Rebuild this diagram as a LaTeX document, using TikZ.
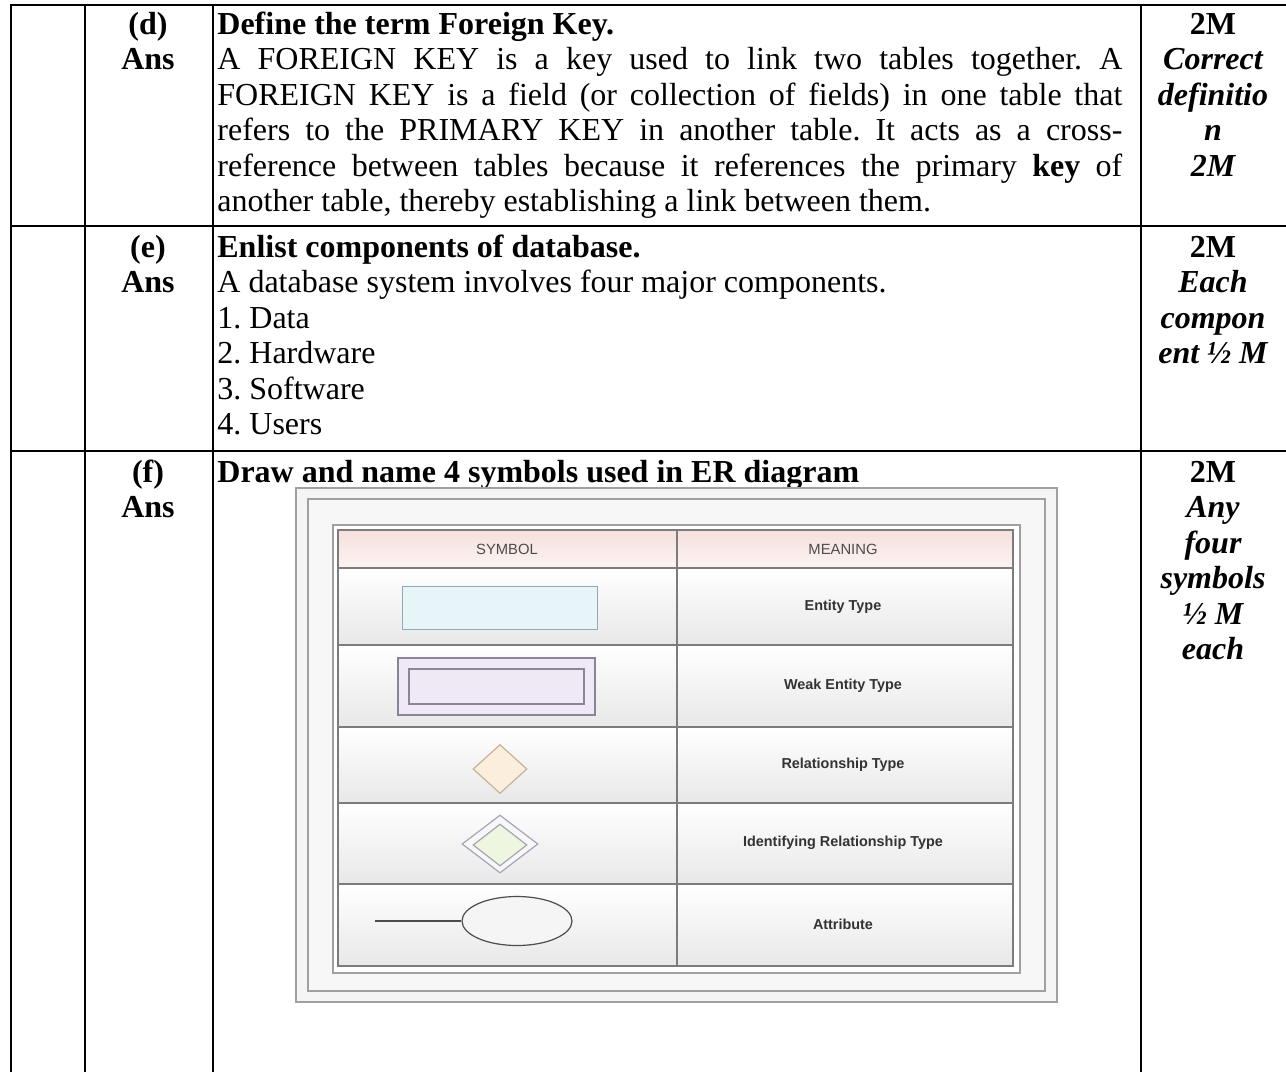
\documentclass[tikz,border=0pt]{standalone}
\usepackage{fontspec}
\setmainfont{Liberation Serif}
\newfontfamily\figfont{Liberation Sans}
\usetikzlibrary{shapes.geometric}
\frenchspacing
\definecolor{headpink}{HTML}{F5E0DC}
\definecolor{rowgray}{HTML}{E8E8E8}
\definecolor{gridgray}{HTML}{7C7C7C}
\definecolor{framegray}{HTML}{A0A0A0}
\definecolor{entityfill}{HTML}{E7F5F8}
\definecolor{entityline}{HTML}{8EABB2}
\definecolor{weakfill}{HTML}{EFE9F5}
\definecolor{weakline}{HTML}{8A8496}
\definecolor{relfill}{HTML}{FBEEDD}
\definecolor{relline}{HTML}{C6B297}
\definecolor{idfill}{HTML}{EEF6DF}
\definecolor{idline}{HTML}{A8A3B8}
\tikzset{
	tabrule/.style={line width=1.35pt, black},
	qcell/.style={anchor=north, inner sep=0pt, align=center, font=\fontsize{16}{17.75}\selectfont\bfseries},
	anscell/.style={anchor=north west, inner sep=0pt, text width=452.5pt, align=justify, font=\fontsize{16}{17.75}\selectfont},
	markcell/.style={anchor=north, inner sep=0pt, align=center, font=\fontsize{16}{17.75}\selectfont\bfseries\itshape},
	framerule/.style={draw=framegray, line width=0.6pt},
	gridrule/.style={draw=gridgray, line width=0.6pt},
	headtext/.style={inner sep=0pt, text=black!70, font=\figfont\fontsize{7.4}{9}\selectfont},
	meantext/.style={inner sep=0pt, text=black!80, font=\figfont\fontsize{7.2}{9}\selectfont\bfseries},
	entitybox/.style={rectangle, draw=entityline, fill=entityfill, line width=0.6pt, inner sep=0pt, minimum width=97.5pt, minimum height=21.5pt},
	weakbox/.style={rectangle, draw=weakline, fill=weakfill, line width=0.6pt, inner sep=0pt},
	reldiamond/.style={diamond, draw=relline, fill=relfill, line width=0.6pt, inner sep=0pt, minimum width=27pt, minimum height=24.5pt},
	iddiamond/.style={diamond, draw=idline, line width=0.6pt, inner sep=0pt},
	attrellipse/.style={ellipse, draw=black!70, fill=white!96!black, line width=0.6pt, inner sep=0pt, minimum width=55pt, minimum height=24.5pt}
}
\begin{document}
\begin{tikzpicture}[x=0.5pt,y=-0.5pt]
	\useasboundingbox (0,0) rectangle (1286,1072);
	
	\draw[tabrule] (11,1072) -- (11,5) -- (1286,5);
	\draw[tabrule] (85,5) -- (85,1072);
	\draw[tabrule] (213,5) -- (213,1072);
	\draw[tabrule] (1141,5) -- (1141,1072);
	\draw[tabrule] (11,226) -- (1286,226);
	\draw[tabrule] (11,451) -- (1286,451);
	
	\node[qcell] (qd) at (148,9) {\strut(d)\\Ans};
	\node[anscell] (ansd) at (217,9) {\strut\textbf{Define the term Foreign Key.}\\
		A FOREIGN KEY is a key used to link two tables together. A\linebreak
		FOREIGN KEY is a field (or collection of fields) in one table that\linebreak
		refers to the PRIMARY KEY in another table. It acts as a cross-\linebreak
		reference between tables because it references the primary \textbf{key} of\linebreak
		another table, thereby establishing a link between them.};
	\node[markcell] (markd) at (1213,9) {\strut\textup{2M}\\Correct\\definitio\\n\\2M};
	
	\node[qcell] (qe) at (148,232) {\strut(e)\\Ans};
	\node[anscell] (anse) at (217,232) {\strut\textbf{Enlist components of database.}\\
		A database system involves four major components.\\
		1. Data\\2. Hardware\\3. Software\\4. Users};
	\node[markcell] (marke) at (1213,232) {\strut\textup{2M}\\Each\\compon\\ent ½ M};
	
	\node[qcell] (qf) at (148,457) {\strut(f)\\Ans};
	\node[anscell] (ansf) at (217,457) {\strut\textbf{Draw and name 4 symbols used in ER diagram}};
	\node[markcell] (markf) at (1213,457) {\strut\textup{2M}\\Any\\four\\symbols\\½ M\\each};
	
	\draw[framerule, fill=black!4] (296,488) rectangle (1057,1002);
	\draw[framerule, fill=black!3] (308,499) rectangle (1045,991);
	\draw[framerule, fill=white] (333,525) rectangle (1020,973);
	\shade[top color=headpink, bottom color=headpink!35] (338,530) rectangle (1013,568);
	\foreach \ya/\yb in {568/645, 645/727, 727/803, 803/884, 884/966}
		\shade[top color=white, bottom color=rowgray] (338,\ya) rectangle (1013,\yb);
	\draw[gridrule] (338,530) rectangle (1013,966);
	\draw[gridrule] (677,530) -- (677,966);
	\foreach \yy in {568,645,727,803,884}
		\draw[gridrule] (338,\yy) -- (1013,\yy);
	
	\node[headtext] (symhead) at (507,549) {SYMBOL};
	\node[headtext] (meanhead) at (843,549) {MEANING};
	\node[meantext] (mentity) at (843,607) {Entity Type};
	\node[meantext] (mweak) at (843,686) {Weak Entity Type};
	\node[meantext] (mrel) at (843,765) {Relationship Type};
	\node[meantext] (midrel) at (843,843) {Identifying Relationship Type};
	\node[meantext] (mattr) at (843,924) {Attribute};
	
	\node[entitybox] (entity) at (500,608) {};
	\node[weakbox, minimum width=98.5pt, minimum height=28.5pt] (weak) at (496.5,686.5) {};
	\node[weakbox, minimum width=87.5pt, minimum height=17.5pt] (weakin) at (496.5,686.5) {};
	\node[reldiamond] (rel) at (500,769) {};
	\node[iddiamond, fill=white!97!black, minimum width=38pt, minimum height=29pt] (idrel) at (500,844) {};
	\node[iddiamond, fill=idfill, minimum width=27pt, minimum height=21pt] (idrelin) at (500,845) {};
	\node[attrellipse] (attr) at (517,921) {};
	\coordinate (attrstub) at (375,921);
	\draw[black!70, line width=0.6pt] (attrstub) -- (attr);
\end{tikzpicture}
\end{document}
